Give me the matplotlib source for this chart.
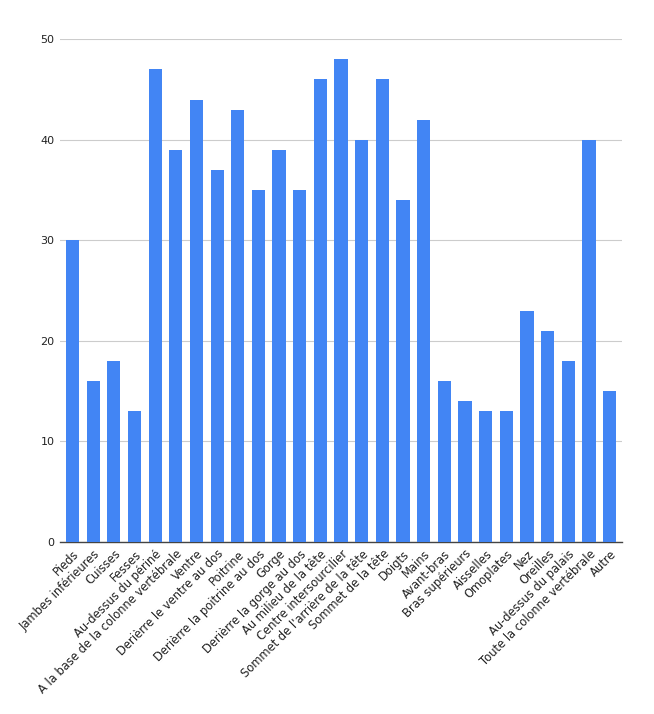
import matplotlib.pyplot as plt

categories = ["Pieds", "Jambes inférieures", "Cuisses", "Fesses", "Au-dessus du périné",
              "A la base de la colonne vertébrale", "Ventre", "Derièrre le ventre au dos",
              "Poitrine", "Derièrre la poitrine au dos", "Gorge", "Derièrre la gorge au dos",
              "Au milieu de la tête", "Centre intersourcilier", "Sommet de l'arrière de la tête",
              "Sommet de la tête", "Doigts", "Mains", "Avant-bras", "Bras supérieurs",
              "Aisselles", "Omoplates", "Nez", "Oreilles", "Au-dessus du palais",
              "Toute la colonne vertébrale", "Autre"]
values = [30, 16, 18, 13, 47, 39, 44, 37, 43, 35, 39, 35, 46, 48, 40, 46, 34, 42,
          16, 14, 13, 13, 23, 21, 18, 40, 15]
yticks = [0, 10, 20, 30, 40, 50]

fig = plt.figure(figsize=(6.54, 7.14), dpi=100)
ax = fig.add_axes([0.092, 0.241, 0.859, 0.704])

x = range(len(categories))
ax.bar(x, values, width=0.64, color="#4285F4", zorder=3)

ax.set_xlim(-0.6, len(categories) - 0.4)
ax.set_ylim(0, 50)
ax.set_yticks(yticks)
ax.set_yticklabels([str(v) for v in yticks], fontsize=8, color="#222222")
ax.set_xticks(list(x))
ax.set_xticklabels(categories, rotation=45, ha="right", rotation_mode="anchor",
                   fontsize=8.3, color="#222222")
ax.tick_params(axis="both", length=0, pad=4)
ax.grid(axis="y", color="#cccccc", linewidth=0.8, zorder=0)

for s in ["top", "right", "left"]:
    ax.spines[s].set_visible(False)
ax.spines["bottom"].set_color("#444444")
ax.spines["bottom"].set_linewidth(1)

fig.savefig("out.png", dpi=100)
